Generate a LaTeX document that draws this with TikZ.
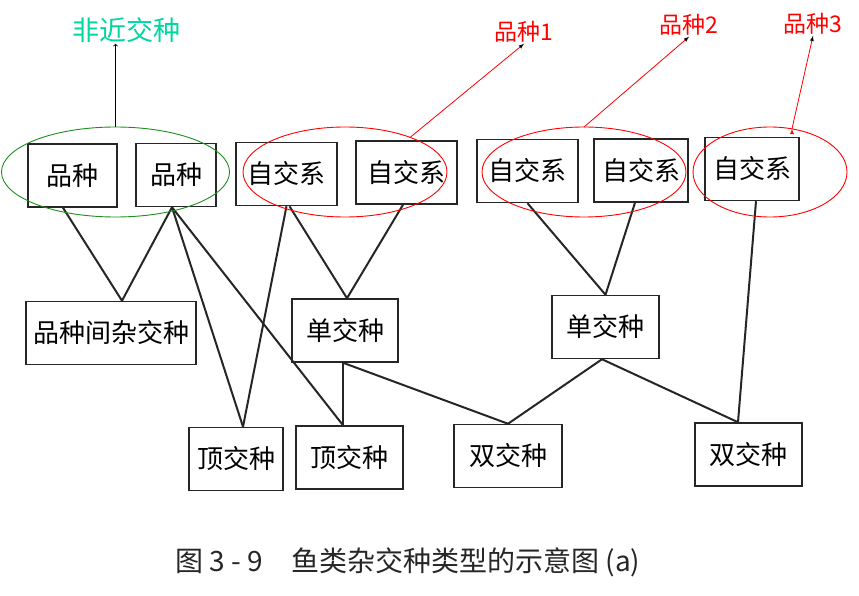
\documentclass[tikz,border=0pt]{standalone}
\usepackage{fontspec}
\newfontfamily\cjk{Noto Sans CJK SC}
\usetikzlibrary{shapes.geometric}
\definecolor{mint}{RGB}{0,215,160}
\definecolor{leaf}{RGB}{30,140,30}

\begin{document}
\begin{tikzpicture}[x=1pt,y=-1pt,
  box/.style={shape=rectangle,draw=black!85,line width=1.5pt,inner sep=0pt,minimum height=63pt,font=\cjk\fontsize{26}{26}\selectfont},
  link/.style={draw=black!85,line width=2pt},
  ring/.style={shape=ellipse,draw,line width=0.9pt,inner sep=0pt,outer sep=0pt},
  pick/.style={draw=red,line width=0.8pt,-latex},
  tag/.style={text=red,font=\cjk\fontsize{23}{23}\selectfont,inner sep=1pt}]
\useasboundingbox (0,0) rectangle (859,596);

% top row
\node(b1) at (72.5,175.5)[box,minimum width=89pt]  {品种};
\node(b2) at (176,175)[box,minimum width=80pt]     {品种};
\node(b3) at (286.5,174)[box,minimum width=101pt]  {自交系};
\node(b4) at (406.5,172.5)[box,minimum width=101pt]{自交系};
\node(b5) at (527.5,171)[box,minimum width=101pt]  {自交系};
\node(b6) at (641,170.5)[box,minimum width=94pt]   {自交系};
\node(b7) at (752,169)[box,minimum width=94pt]     {自交系};

% middle row
\node(m1) at (111,333)[box,minimum width=170pt]    {品种间杂交种};
\node(m2) at (345,330.5)[box,minimum width=106pt]  {单交种};
\node(m3) at (605.5,327)[box,minimum width=107pt]  {单交种};

% bottom row
\node(d1) at (236,459)[box,minimum width=94pt]     {顶交种};
\node(d2) at (349.5,457.5)[box,minimum width=107pt]{顶交种};
\node(s1) at (508,456)[box,minimum width=108pt]    {双交种};
\node(s2) at (748.5,454.5)[box,minimum width=107pt]{双交种};

\path [link]
  ([xshift=-9.5pt]b1.south) edge ([xshift=11pt]m1.north)
  ([xshift=-4pt]b2.south)   edge ([xshift=11pt]m1.north)
  ([xshift=-4pt]b2.south)   edge ([xshift=7pt]d1.north)
  ([xshift=-4pt]b2.south)   edge ([xshift=-6.5pt]d2.north)
  (b3.south)                edge ([xshift=7pt]d1.north)
  ([xshift=3pt]b3.south)    edge ([xshift=2pt]m2.north)
  ([xshift=-3.5pt]b4.south) edge ([xshift=2pt]m2.north)
  ([xshift=-2pt]m2.south)   edge ([xshift=-6.5pt]d2.north)
  ([xshift=-2pt]m2.south)   edge (s1.north)
  (b5.south)                edge (m3.north)
  ([xshift=-6pt]b6.south)   edge (m3.north)
  ([xshift=-3.5pt]m3.south) edge (s1.north)
  ([xshift=-3.5pt]m3.south) edge ([xshift=-10.5pt]s2.north)
  ([xshift=4pt]b7.south)    edge ([xshift=-10.5pt]s2.north);

% groups
\node(g)  at (115.5,172)[ring,draw=leaf,minimum width=228pt,minimum height=90pt]{};
\node(r1) at (345,172)[ring,draw=red,minimum width=204pt,minimum height=90pt]{};
\node(r2) at (584,172)[ring,draw=red,minimum width=204pt,minimum height=90pt]{};
\node(r3) at (770,172)[ring,draw=red,minimum width=154pt,minimum height=90pt]{};

\node(fj) at (126,30)[text=mint,font=\cjk\fontsize{27}{27}\selectfont,inner sep=1pt]{非近交种};
\node(t1) at (524,32)[tag]{品种1};
\node(t2) at (689,25)[tag]{品种2};
\node(t3) at (813,24)[tag]{品种3};

\draw [->,line width=0.8pt] (g.north) -- (g.north |- fj.south);
\path [pick]
  (r1.28) edge (t1.south)
  (r2.north) edge (t2.south)
  (r3.63) edge (t3.south);

\node(cap) at (408,562)[text=black!85,font=\cjk\fontsize{28}{28}\selectfont]{图 3 - 9\quad 鱼类杂交种类型的示意图 (a)};

\end{tikzpicture}
\end{document}
